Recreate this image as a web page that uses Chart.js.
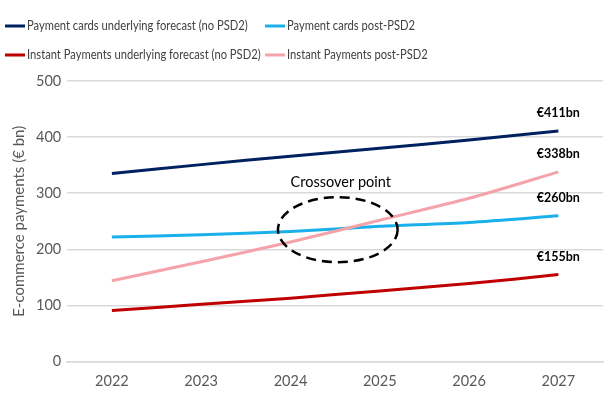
<!DOCTYPE html>
<html>
<head>
<meta charset="utf-8">
<script src="https://cdn.jsdelivr.net/npm/chart.js@4"></script>
<style>
    body { margin: 0; background: #fff; }
</style>
</head>
<body>
<canvas id="myChart" width="605" height="393"></canvas>
<script>
// chart data
var years = ['2022', '2023', '2024', '2025', '2026', '2027'];
var cardsBase = [335, 351, 366, 380, 395, 411];
var cardsPost = [222, 226, 232, 241, 248, 260];
var instantBase = [91, 102, 113, 126, 139, 155];
var instantPost = [144, 178, 213, 252, 291, 338];
var yTicks = [0, 100, 200, 300, 400, 500];

var seriesNames = [
    'Payment cards underlying forecast (no PSD2)',
    'Payment cards post-PSD2',
    'Instant Payments underlying forecast (no PSD2)',
    'Instant Payments post-PSD2'
];
var seriesColors = ['#002060', '#1ab0ea', '#c00000', '#f4a3aa'];

// crossover ellipse in data units (category index, value)
var crossCenter = [2.53, 235];
var crossRadius = [0.67, 58];

var annotations = {
    id: 'annotations',
    afterDatasetsDraw: function (chart) {
        var ctx = chart.ctx;
        ctx.save();
        ctx.font = 'bold 12.5px Lato, sans-serif';
        ctx.fillStyle = '#000';
        ctx.textAlign = 'center';
        ctx.textBaseline = 'middle';
        chart.data.datasets.forEach(function (ds, i) {
            var meta = chart.getDatasetMeta(i);
            var pt = meta.data[meta.data.length - 1];
            ctx.fillText('€' + ds.data[ds.data.length - 1] + 'bn', pt.x, pt.y - 18);
        });

        // crossover ellipse
        var xs = chart.scales.x, ys = chart.scales.y;
        var cx = xs.getPixelForValue(crossCenter[0]);
        var cy = ys.getPixelForValue(crossCenter[1]);
        var rx = xs.getPixelForValue(crossCenter[0] + crossRadius[0]) - cx;
        var ry = cy - ys.getPixelForValue(crossCenter[1] + crossRadius[1]);
        ctx.beginPath();
        ctx.setLineDash([10, 6]);
        ctx.lineWidth = 2.5;
        ctx.strokeStyle = '#000';
        ctx.ellipse(cx, cy, rx, ry, 0, 0, Math.PI * 2);
        ctx.stroke();
        ctx.setLineDash([]);

        ctx.font = '14.5px Lato, sans-serif';
        ctx.fillText('Crossover point', cx + 3, ys.getPixelForValue(320));
        ctx.restore();
    },
    // two-column legend, like the Excel original
    afterDraw: function (chart) {
        var ctx = chart.ctx;
        ctx.save();
        ctx.font = '13px Lato, sans-serif';
        ctx.textAlign = 'left';
        ctx.textBaseline = 'middle';
        chart.data.datasets.forEach(function (ds, i) {
            var x = i % 2 === 0 ? 5 : 265;
            var y = i < 2 ? 26 : 55;
            ctx.strokeStyle = ds.borderColor;
            ctx.lineWidth = 3;
            ctx.beginPath();
            ctx.moveTo(x, y);
            ctx.lineTo(x + 20, y);
            ctx.stroke();
            ctx.fillStyle = '#404040';
            ctx.fillText(ds.label, x + 22, y, ctx.measureText(ds.label).width * 0.86);
        });
        ctx.restore();
    }
};

var ctx = document.getElementById('myChart').getContext('2d');
var myChart = new Chart(ctx, {
    type: 'line',
    data: {
        labels: years,
        datasets: [cardsBase, cardsPost, instantBase, instantPost].map(function (d, i) {
            return {
                label: seriesNames[i],
                data: d,
                borderColor: seriesColors[i],
                backgroundColor: seriesColors[i],
                borderWidth: 3,
                pointRadius: 0,
                tension: 0.25,
                order: i === 3 ? 0 : 1
            };
        })
    },
    options: {
        responsive: false,
        animation: false,
        layout: { padding: { top: 81, right: 2, left: 8, bottom: 0 } },
        plugins: {
            legend: { display: false },
            tooltip: { enabled: false }
        },
        scales: {
            x: {
                offset: true,
                grid: { display: false },
                border: { color: '#d9d9d9', width: 1.5 },
                ticks: { color: '#595959', font: { family: 'Lato', size: 14.5 }, padding: 3 }
            },
            y: {
                min: 0,
                max: 500,
                afterBuildTicks: function (axis) {
                    axis.ticks = yTicks.map(function (v) { return { value: v }; });
                },
                grid: { color: '#d9d9d9', lineWidth: 1.5, drawTicks: false },
                border: { display: false },
                ticks: { color: '#595959', font: { family: 'Lato', size: 14.5 }, padding: 6 },
                title: {
                    display: true,
                    text: 'E-commerce payments (€ bn)',
                    color: '#595959',
                    font: { family: 'Lato', size: 15 },
                    padding: 2
                }
            }
        }
    },
    plugins: [annotations]
});
</script>
</body>
</html>
